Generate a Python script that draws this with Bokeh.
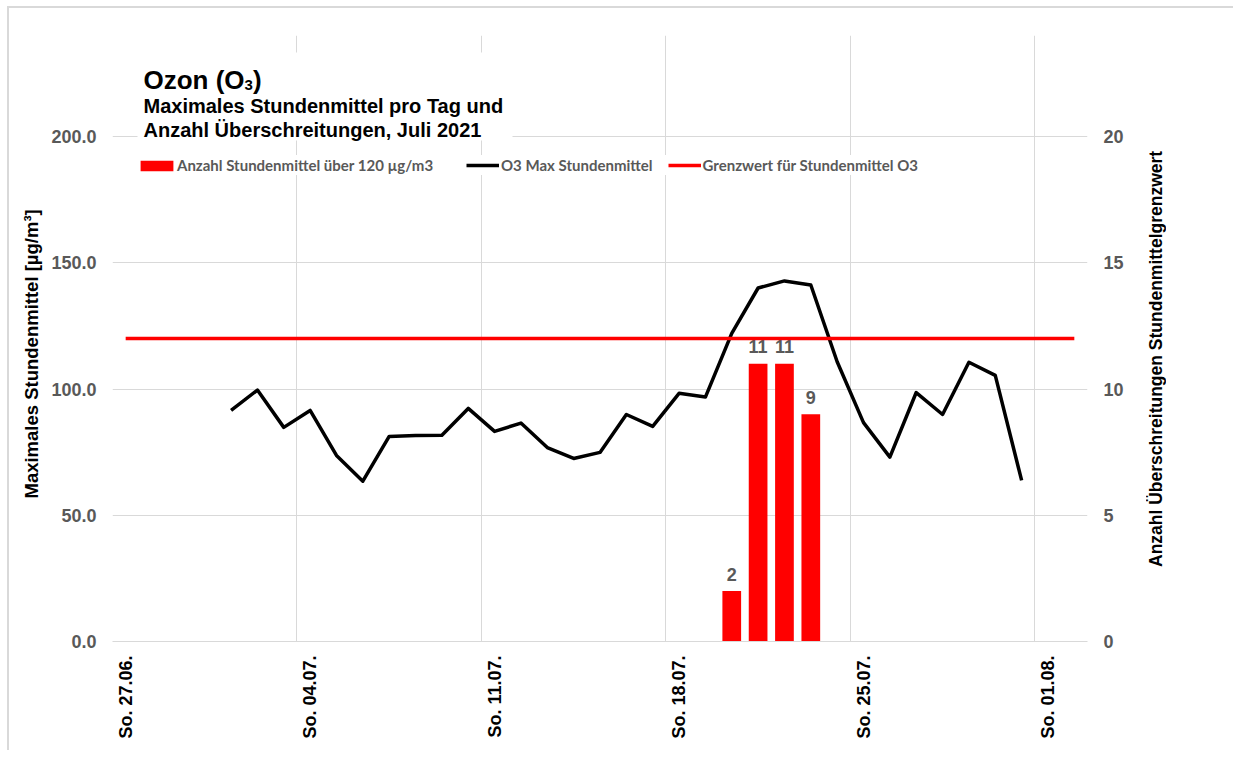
import math
import pandas as pd
from bokeh.plotting import figure
from bokeh.layouts import row
from bokeh.models import (Range1d, LinearAxis, FixedTicker, NumeralTickFormatter,
                          DatetimeTickFormatter, Legend, LegendItem, Label, BoxAnnotation,
                          ColumnDataSource, Div)
from bokeh.embed import file_html
from bokeh.resources import INLINE
from bokeh.core.properties import value

# ---------------- data ----------------
days = [f"2021-07-{d:02d}" for d in range(1, 32)]
o3_max = [91.5, 99.6, 84.8, 91.5, 73.7, 63.5, 81.2, 81.6, 81.7, 92.3,
          83.2, 86.5, 76.8, 72.5, 74.9, 89.9, 85.2, 98.3, 96.8, 122.0,
          140.0, 142.8, 141.2, 110.8, 86.7, 73.0, 98.6, 89.9, 110.6, 105.4, 63.8]

exceed_days = ["2021-07-20", "2021-07-21", "2021-07-22", "2021-07-23"]
exceed_counts = [2, 11, 11, 9]

limit_days = ["2021-06-27", "2021-08-02"]
limit_values = [120, 120]

week_ticks = ["2021-06-27", "2021-07-04", "2021-07-11", "2021-07-18", "2021-07-25", "2021-08-01"]
left_ticks = [0, 50, 100, 150, 200]
right_ticks = [0, 5, 10, 15, 20]

x_start, x_end = "2021-06-27", "2021-08-03"

# ---------------- helpers ----------------
NOON = pd.Timedelta(hours=12)
EPOCH = pd.Timestamp("1970-01-01")


def to_ms(ts):
    return (pd.Timestamp(ts) - EPOCH) / pd.Timedelta(milliseconds=1)


FONT = "Liberation Sans"
GREY = "#595959"
GRID = "#d9d9d9"

p = figure(frame_width=975, frame_height=606,
           x_axis_type="datetime",
           x_range=Range1d(pd.Timestamp(x_start), pd.Timestamp(x_end)),
           y_range=Range1d(0, 240),
           output_backend="svg", toolbar_location=None,
           min_border_left=103, min_border_right=52,
           min_border_top=27, min_border_bottom=109,
           background_fill_color="white", border_fill_color="white",
           outline_line_color=None)

p.extra_y_ranges = {"cnt": Range1d(0, 24)}

# grids
p.xgrid.ticker = FixedTicker(ticks=[to_ms(d) for d in week_ticks])
p.xgrid.grid_line_color = GRID
p.ygrid.grid_line_color = GRID

# x axis (labels centred at noon of each Sunday)
xa = p.xaxis[0]
xa.ticker = FixedTicker(ticks=[to_ms(pd.Timestamp(d) + NOON) for d in week_ticks])
fmt = "So. %d.%m."
xa.formatter = DatetimeTickFormatter(days=fmt, months=fmt, hours=fmt, hourmin=fmt, years=fmt)
xa.major_label_orientation = math.pi / 2
xa.major_label_text_font = FONT
xa.major_label_text_font_style = "bold"
xa.major_label_text_font_size = "18px"
xa.major_label_text_color = "black"
xa.major_label_standoff = 14
xa.axis_line_color = GRID
xa.major_tick_line_color = None
xa.minor_tick_line_color = None
xa.major_tick_out = 0
xa.major_tick_in = 0

# left axis
ya = p.yaxis[0]
ya.ticker = FixedTicker(ticks=left_ticks)
ya.formatter = NumeralTickFormatter(format="0.0")
ya.axis_label = "Maximales Stundenmittel [µg/m³]" + "\u00a0" * 6
ya.axis_label_text_font = FONT
ya.axis_label_text_font_style = "bold"
ya.axis_label_text_font_size = "18.5px"
ya.axis_label_text_color = "black"
ya.axis_label_standoff = 6

# right axis
ra = LinearAxis(y_range_name="cnt", ticker=FixedTicker(ticks=right_ticks))
p.add_layout(ra, "right")

for ax in (ya, ra):
    ax.major_label_text_font = FONT
    ax.major_label_text_font_style = "bold"
    ax.major_label_text_font_size = "18px"
    ax.major_label_text_color = GREY
    ax.major_label_standoff = 16
    ax.axis_line_color = None
    ax.major_tick_line_color = None
    ax.minor_tick_line_color = None
    ax.major_tick_out = 0
    ax.major_tick_in = 0

# ---------------- glyphs ----------------
bar_src = ColumnDataSource(dict(
    x=pd.to_datetime(exceed_days) + NOON,
    y=exceed_counts,
    t=[str(c) for c in exceed_counts]))
bars = p.vbar(x="x", top="y", width=0.71 * 86400000, source=bar_src,
              y_range_name="cnt", fill_color="#ff0000", line_color=None)
p.text(x="x", y="y", text="t", source=bar_src, y_range_name="cnt",
       text_align="center", text_baseline="alphabetic", y_offset=-17,
       text_font=value(FONT), text_font_style="bold", text_font_size="18px",
       text_color=GREY)

o3_line = p.line(x=pd.to_datetime(days) + NOON, y=o3_max, line_color="black",
                 line_width=3.5, line_join="round")
lim_line = p.line(x=pd.to_datetime(limit_days) + NOON, y=limit_values,
                  line_color="#ff0000", line_width=3.5)

legend_style = dict(orientation="horizontal", padding=4, margin=0, label_height=20,
                    label_text_font="Lato", label_text_font_style="bold",
                    label_text_font_size="15px", label_text_color=GREY,
                    background_fill_color="white", background_fill_alpha=1.0,
                    border_line_color=None)

legend_bar = Legend(items=[LegendItem(label="Anzahl Stundenmittel über 120 µg/m3",
                                      renderers=[bars])],
                    location=(24, 466), glyph_width=41, glyph_height=13,
                    label_standoff=0, **legend_style)
legend_lines = Legend(items=[
    LegendItem(label="O3 Max Stundenmittel", renderers=[o3_line]),
    LegendItem(label="Grenzwert für Stundenmittel O3", renderers=[lim_line]),
], location=(354, 466), glyph_width=33, glyph_height=12, label_standoff=2,
    spacing=15, **legend_style)
p.add_layout(legend_bar)
p.add_layout(legend_lines)

# ---------------- title block ----------------
p.add_layout(BoxAnnotation(left=25, right=400, top=589, bottom=501,
                           left_units="screen", right_units="screen",
                           top_units="screen", bottom_units="screen",
                           fill_color="white", fill_alpha=1.0, line_color=None))


def lab(text, x, y, size):
    return Label(text=text, x=x, y=y, x_units="screen", y_units="screen",
                 text_font=FONT, text_font_style="bold", text_font_size=size,
                 text_color="black", text_align="left", text_baseline="alphabetic")


p.add_layout(lab("Ozon (O", 31, 562, "26px"))
p.add_layout(lab("3", 132, 557, "15px"))
p.add_layout(lab(")", 140.5, 562, "26px"))
p.add_layout(lab("Maximales Stundenmittel pro Tag und", 31, 536, "20px"))
p.add_layout(lab("Anzahl Überschreitungen, Juli 2021", 31, 512, "20px"))

# ---------------- right axis title (reads bottom-to-top) ----------------
right_title = Div(text="Anzahl Überschreitungen Stundenmittelgrenzwert",
                  width=94, height=440,
                  styles={"margin-top": "131px",
                          "writing-mode": "vertical-rl",
                          "transform": "rotate(180deg)",
                          "text-align": "center",
                          "white-space": "nowrap",
                          "font-family": "'Liberation Sans', Arial, sans-serif",
                          "font-weight": "bold",
                          "font-size": "17.5px",
                          "color": "black"})

layout = row(p, right_title,
             styles={"margin-left": "7px", "margin-top": "6px",
                     "border-top": "2px solid #d9d9d9", "border-left": "2px solid #d9d9d9"})

open("out.html", "w").write(file_html(layout, INLINE))
